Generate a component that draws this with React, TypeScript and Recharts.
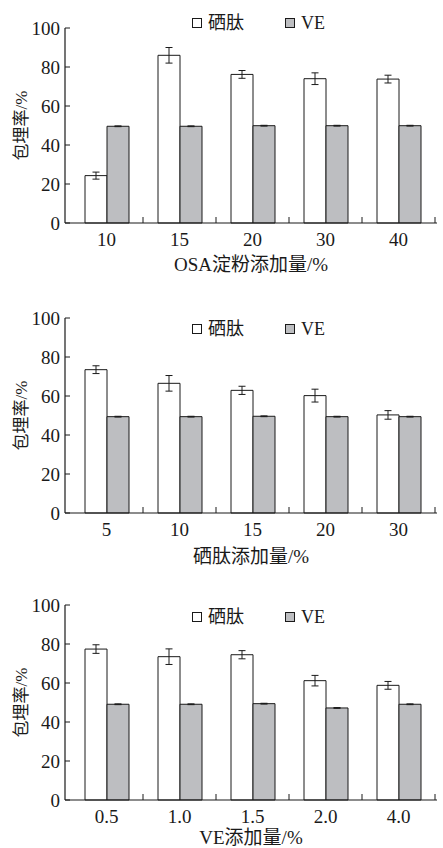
import { BarChart, Bar, XAxis, YAxis, ErrorBar, Legend } from "recharts";

const FONT = "'Liberation Serif', 'Noto Sans CJK SC', serif";
const INK = "#1a1a1a";
const GRAY = "#bdbec1";

// panel 1: OSA starch
const osaCats = ["10", "15", "20", "30", "40"];
const osaSe = [24.3, 86.0, 76.2, 74.0, 73.8];
const osaSeErr = [1.8, 4.0, 2.0, 3.0, 2.0];
const osaVe = [49.6, 49.6, 49.9, 49.9, 49.9];
const osaVeErr = [0.2, 0.2, 0.2, 0.2, 0.2];

// panel 2: selenium peptide
const sepCats = ["5", "10", "15", "20", "30"];
const sepSe = [73.5, 66.5, 62.9, 60.2, 50.3];
const sepSeErr = [2.0, 4.0, 2.1, 3.3, 2.2];
const sepVe = [49.4, 49.4, 49.6, 49.4, 49.4];
const sepVeErr = [0.2, 0.2, 0.2, 0.2, 0.2];

// panel 3: VE
const veCats = ["0.5", "1.0", "1.5", "2.0", "4.0"];
const veSe = [77.4, 73.5, 74.5, 61.2, 58.8];
const veSeErr = [2.2, 4.0, 2.1, 2.7, 2.0];
const veVe = [49.1, 49.1, 49.4, 47.2, 49.1];
const veVeErr = [0.2, 0.2, 0.2, 0.2, 0.2];

const yTicks = [0, 20, 40, 60, 80, 100];

const W = 443;
const Y_W = 65;
const RIGHT = 6;
const PAD_L = 5;
const PAD_R = 2;
const BAND = (W - Y_W - RIGHT - PAD_L - PAD_R) / 5;

function XTick(props: any) {
  const { x, y, payload } = props;
  const axisY = y - 10;
  return (
    <g>
      <line x1={x + BAND / 2} x2={x + BAND / 2} y1={axisY} y2={axisY - 6} stroke={INK} strokeWidth={1} />
      <text x={x} y={y} dy="0.71em" textAnchor="middle" fill={INK} fontSize={19} fontFamily={FONT}>
        {payload.value}
      </text>
    </g>
  );
}

function LegendBox() {
  const sq = (fill: string) => (
    <span
      style={{
        display: "inline-block",
        width: 8,
        height: 8,
        background: fill,
        border: `1px solid ${INK}`,
        marginRight: 6,
      }}
    />
  );
  return (
    <div style={{ display: "flex", alignItems: "center", fontFamily: FONT, fontSize: 18, color: INK, lineHeight: "20px" }}>
      {sq("#fff")}
      <span>硒肽</span>
      <span style={{ width: 41 }} />
      {sq(GRAY)}
      <span>VE</span>
    </div>
  );
}

function Panel({
  cats, se, seErr, ve, veErr, title, height, bottom, axisH, titleOffset, legendTop,
}: {
  cats: string[]; se: number[]; seErr: number[]; ve: number[]; veErr: number[];
  title: string; height: number; bottom: number; axisH: number; titleOffset: number; legendTop: number;
}) {
  const data = cats.map((c, i) => ({ cat: c, se: se[i], seErr: seErr[i], ve: ve[i], veErr: veErr[i] }));
  return (
    <BarChart
      width={W}
      height={height}
      data={data}
      margin={{ top: 28, right: RIGHT, left: 0, bottom }}
      barGap={0}
      barSize={22}
    >
      <XAxis
        dataKey="cat"
        height={axisH}
        padding={{ left: PAD_L, right: PAD_R }}
        tickLine={false}
        tickSize={0}
        tickMargin={10}
        tick={<XTick />}
        axisLine={{ stroke: INK, strokeWidth: 1.2 }}
        label={{ value: title, position: "insideBottom", offset: titleOffset, fill: INK, fontSize: 19, fontFamily: FONT }}
      />
      <YAxis
        width={Y_W}
        domain={[0, 100]}
        ticks={yTicks}
        tickSize={-5}
        tickMargin={10}
        tickLine={{ stroke: INK }}
        axisLine={{ stroke: INK, strokeWidth: 1.2 }}
        tick={{ fill: INK, fontSize: 19, fontFamily: FONT }}
        label={{ value: "包埋率/%", angle: -90, position: "insideLeft", offset: 21, fill: INK, fontSize: 17, fontFamily: FONT, style: { textAnchor: "middle" } }}
      />
      <Legend
        layout="horizontal"
        verticalAlign="middle"
        align="center"
        content={<LegendBox />}
        wrapperStyle={{ top: legendTop, left: 192, width: 180 }}
      />
      <Bar dataKey="se" name="硒肽" fill="#fff" stroke={INK} strokeWidth={1} isAnimationActive={false}>
        <ErrorBar dataKey="seErr" width={3.5} stroke={INK} strokeWidth={1} />
      </Bar>
      <Bar dataKey="ve" name="VE" fill={GRAY} stroke={INK} strokeWidth={1} isAnimationActive={false}>
        <ErrorBar dataKey="veErr" width={3.5} stroke={INK} strokeWidth={1} />
      </Bar>
    </BarChart>
  );
}

export default function App() {
  return (
    <div style={{ position: "absolute", left: 0, top: 0, width: W, height: 848, background: "#fff" }}>
      <Panel cats={osaCats} se={osaSe} seErr={osaSeErr} ve={osaVe} veErr={osaVeErr}
        title="OSA淀粉添加量/%" height={290} bottom={17} axisH={50} titleOffset={2} legendTop={13} />
      <Panel cats={sepCats} se={sepSe} seErr={sepSeErr} ve={sepVe} veErr={sepVeErr}
        title="硒肽添加量/%" height={287} bottom={14} axisH={50} titleOffset={0} legendTop={29} />
      <Panel cats={veCats} se={veSe} seErr={veSeErr} ve={veVe} veErr={veVeErr}
        title="VE添加量/%" height={271} bottom={0} axisH={48} titleOffset={4} legendTop={30} />
    </div>
  );
}
